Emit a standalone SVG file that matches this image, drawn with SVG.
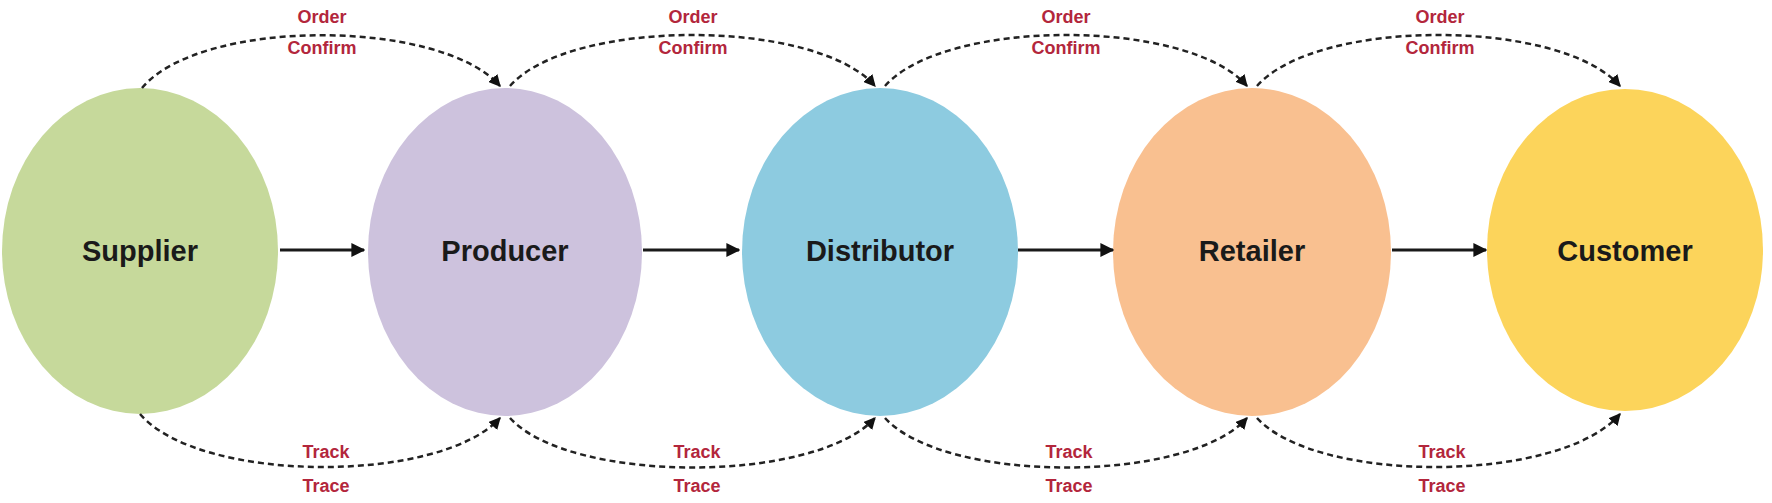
<svg xmlns="http://www.w3.org/2000/svg" width="1772" height="503" viewBox="0 0 1772 503">
<defs>
<style>
.node-label{font-family:"Liberation Sans",Arial,sans-serif;font-weight:bold;font-size:29px;fill:#1a1a1a;text-anchor:middle}
.flow-label{font-family:"Liberation Sans",Arial,sans-serif;font-weight:bold;font-size:18px;fill:#b3263c;text-anchor:middle}
.solid{fill:none;stroke:#1a1a1a;stroke-width:3}
.dashed{fill:none;stroke:#222;stroke-width:2.5;stroke-dasharray:6 4}
</style>
<marker id="ah" viewBox="0 0 10 10" refX="9" refY="5" markerWidth="12" markerHeight="12" markerUnits="userSpaceOnUse" orient="auto">
<path d="M0,0 L10,5 L0,10 z" fill="#111"/>
</marker>
<marker id="ahs" viewBox="0 0 10 10" refX="9" refY="5" markerWidth="14" markerHeight="14" markerUnits="userSpaceOnUse" orient="auto">
<path d="M0,0 L10,5 L0,10 z" fill="#111"/>
</marker>
</defs>
<rect width="1772" height="503" fill="#ffffff"/>

<g id="supplier">
<ellipse cx="140" cy="251" rx="138" ry="163" fill="#c6d99b"/>
<text class="node-label" x="140" y="261">Supplier</text>
</g>
<g id="producer">
<ellipse cx="505" cy="252" rx="137" ry="164" fill="#cdc2dd"/>
<text class="node-label" x="505" y="261">Producer</text>
</g>
<g id="distributor">
<ellipse cx="880" cy="252" rx="138" ry="164" fill="#8dcbe0"/>
<text class="node-label" x="880" y="261">Distributor</text>
</g>
<g id="retailer">
<ellipse cx="1252" cy="252" rx="139" ry="164" fill="#f9c090"/>
<text class="node-label" x="1252" y="261">Retailer</text>
</g>
<g id="customer">
<ellipse cx="1625" cy="250" rx="138" ry="161" fill="#fcd45b"/>
<text class="node-label" x="1625" y="261">Customer</text>
</g>

<g id="connectors">
<line class="solid" x1="280" y1="250" x2="364" y2="250" marker-end="url(#ahs)"/>
<line class="solid" x1="643" y1="250" x2="739" y2="250" marker-end="url(#ahs)"/>
<line class="solid" x1="1018" y1="250" x2="1113" y2="250" marker-end="url(#ahs)"/>
<line class="solid" x1="1392" y1="250" x2="1486" y2="250" marker-end="url(#ahs)"/>

<path class="dashed" d="M142,88 C200,18 440,18 500,86" marker-end="url(#ah)"/>
<path class="dashed" d="M510,86 C570,18 815,18 875,86" marker-end="url(#ah)"/>
<path class="dashed" d="M885,86 C945,18 1188,18 1247,86" marker-end="url(#ah)"/>
<path class="dashed" d="M1257,86 C1317,18 1560,18 1620,86" marker-end="url(#ah)"/>

<path class="dashed" d="M140,414 C200,484 440,484 500,418" marker-end="url(#ah)"/>
<path class="dashed" d="M510,418 C570,484 815,484 875,418" marker-end="url(#ah)"/>
<path class="dashed" d="M885,418 C945,484 1188,484 1247,418" marker-end="url(#ah)"/>
<path class="dashed" d="M1257,418 C1317,484 1560,484 1620,414" marker-end="url(#ah)"/>
</g>

<g id="labels">
<text class="flow-label" x="322" y="23">Order</text>
<text class="flow-label" x="322" y="54">Confirm</text>
<text class="flow-label" x="693" y="23">Order</text>
<text class="flow-label" x="693" y="54">Confirm</text>
<text class="flow-label" x="1066" y="23">Order</text>
<text class="flow-label" x="1066" y="54">Confirm</text>
<text class="flow-label" x="1440" y="23">Order</text>
<text class="flow-label" x="1440" y="54">Confirm</text>

<text class="flow-label" x="326" y="458">Track</text>
<text class="flow-label" x="326" y="492">Trace</text>
<text class="flow-label" x="697" y="458">Track</text>
<text class="flow-label" x="697" y="492">Trace</text>
<text class="flow-label" x="1069" y="458">Track</text>
<text class="flow-label" x="1069" y="492">Trace</text>
<text class="flow-label" x="1442" y="458">Track</text>
<text class="flow-label" x="1442" y="492">Trace</text>
</g>
</svg>
